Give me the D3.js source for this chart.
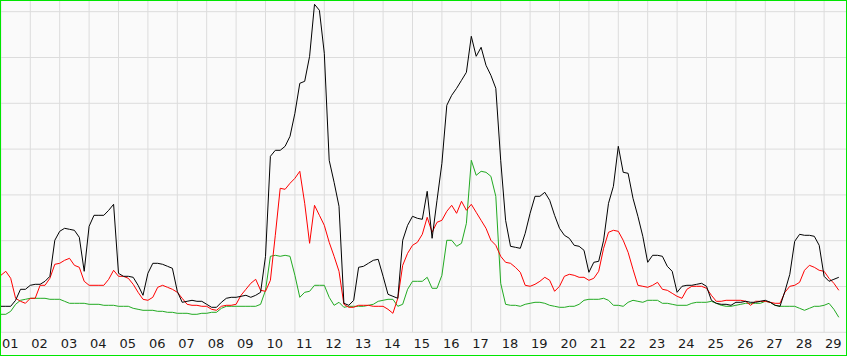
<!DOCTYPE html>
<html>
<head>
  <meta charset="UTF-8">
  <!-- Load d3.js -->
  <script src="https://d3js.org/d3.v7.min.js"></script>
  <style>
    body { margin: 0; background: #fff; }
    svg { display: block; }
  </style>
</head>
<body>
<div id="my_dataviz"></div>
<script>

// day labels along the bottom
var dayLabels = ["01", "02", "03", "04", "05", "06", "07", "08", "09", "10",
  "11", "12", "13", "14", "15", "16", "17", "18", "19", "20",
  "21", "22", "23", "24", "25", "26", "27", "28", "29"];

// values of the horizontal grid lines
var yTicks = [0, 45.8, 91.6, 137.4, 183.2, 229, 274.8, 320.6];

// one sample every 4 hours, starting on day 01 00:00
var stepHours = 4;

var blackValues = [
  26, 26, 26, 32, 43, 43, 47, 48, 48, 51,
  56, 92, 101, 104, 103, 102, 95, 61, 106, 117,
  117, 117, 122, 128, 59, 56, 56, 55, 47, 37,
  59, 69, 69, 68, 66, 64, 41, 30, 31, 32,
  31, 31, 28, 25, 25, 30, 34, 35, 35, 36,
  37, 35, 37, 40, 76, 176, 182, 182, 186, 196,
  219, 249, 251, 276, 328, 322, 279, 172, 150, 126,
  29, 27, 32, 65, 66, 69, 72, 73, 56, 38,
  36, 34, 92, 107, 116, 114, 113, 141, 94, 132,
  169, 227, 237, 244, 252, 260, 296, 276, 285, 267,
  257, 244, 172, 112, 86, 85, 84, 99, 119, 136,
  136, 140, 132, 117, 104, 97, 94, 87, 86, 82,
  60, 70, 71, 92, 129, 146, 186, 160, 159, 134,
  116, 96, 70, 77, 77, 76, 66, 61, 40, 46,
  47, 47, 48, 49, 46, 32, 29, 28, 28, 27,
  30, 30, 31, 30, 30, 31, 32, 30, 27, 26,
  41, 58, 91, 98, 97, 97, 96, 87, 56, 51, 53, 55
];

var redValues = [
  57, 61, 54, 34, 31, 29, 34, 34, 47, 47,
  54, 68, 69, 72, 74, 67, 65, 51, 47, 47,
  47, 47, 53, 62, 56, 56, 54, 48, 40, 33,
  32, 35, 45, 47, 45, 43, 40, 34, 28, 27,
  27, 26, 26, 23, 22, 26, 27, 27, 28, 37,
  43, 49, 53, 42, 41, 52, 97, 144, 143, 149,
  154, 161, 129, 89, 127, 117, 107, 90, 76, 61,
  28, 25, 25, 27, 27, 27, 26, 26, 26, 23,
  19, 34, 67, 79, 87, 90, 98, 115, 100, 110,
  112, 121, 127, 119, 131, 122, 128, 120, 112, 104,
  92, 87, 76, 70, 69, 65, 60, 47, 46, 48,
  51, 55, 52, 41, 46, 56, 58, 57, 55, 55,
  52, 54, 61, 84, 100, 102, 101, 92, 80, 63,
  47, 46, 45, 47, 50, 43, 42, 39, 36, 34,
  43, 46, 46, 46, 44, 37, 31, 31, 32, 32,
  32, 32, 31, 27, 31, 31, 31, 30, 29, 29,
  40, 46, 47, 50, 62, 67, 65, 62, 61, 54, 49, 42
];

var greenValues = [
  18, 18, 21, 28, 32, 33, 34, 34, 34, 34,
  33, 33, 33, 31, 29, 29, 29, 29, 28, 28,
  28, 27, 27, 27, 26, 26, 26, 24, 23, 22,
  22, 22, 21, 21, 20, 20, 19, 19, 19, 18,
  18, 19, 19, 20, 20, 24, 26, 26, 26, 26,
  26, 26, 26, 28, 42, 76, 77, 76, 77, 76,
  57, 35, 40, 41, 47, 47, 47, 35, 27, 30,
  25, 26, 26, 26, 26, 27, 28, 31, 32, 33,
  33, 26, 28, 43, 51, 51, 51, 55, 44, 44,
  57, 92, 92, 86, 89, 109, 172, 157, 161, 160,
  156, 136, 49, 28, 27, 27, 26, 28, 29, 30,
  30, 29, 27, 26, 25, 25, 26, 26, 28, 32,
  33, 33, 33, 34, 32, 27, 27, 26, 30, 32,
  31, 30, 32, 32, 32, 29, 29, 28, 27, 27,
  27, 29, 30, 30, 30, 31, 29, 27, 26, 26,
  27, 28, 29, 29, 29, 29, 31, 30, 27, 26,
  26, 26, 26, 24, 22, 24, 26, 26, 27, 29, 23, 15
];

// set the dimensions of the graph
var width = 848, height = 357;
var plotTop = 1, plotBottom = 332.3, plotLeft = 0.9, plotRight = 846.15;

var hour = 3600 * 1000;
var start = Date.UTC(2023, 0, 1);

var dayTicks = dayLabels.map(function (d) { return new Date(Date.UTC(2023, 0, +d)); });

// Build scales
var x = d3.scaleUtc()
  .domain([new Date(start), new Date(start + 690 * hour)])
  .range([plotLeft, plotRight]);

var y = d3.scaleLinear()
  .domain([0, plotBottom - plotTop])
  .range([plotBottom, plotTop]);

var svg = d3.select("#my_dataviz")
  .append("svg")
  .attr("width", width)
  .attr("height", height);

// background
svg.append("rect")
  .attr("x", 0).attr("y", 0)
  .attr("width", 847).attr("height", 356)
  .attr("fill", "#fafafa");

// vertical grid, one line per day
svg.append("g")
  .attr("transform", "translate(0," + plotBottom + ")")
  .call(d3.axisBottom(x).tickValues(dayTicks).tickSize(-(plotBottom - plotTop)).tickFormat("").offset(0))
  .call(function (g) { g.select(".domain").remove(); })
  .selectAll("line")
  .attr("stroke", "#dcdcdc");

// horizontal grid
svg.append("g")
  .call(d3.axisLeft(y).tickValues(yTicks).tickSize(-847).tickFormat("").offset(0))
  .call(function (g) { g.select(".domain").remove(); })
  .selectAll("line")
  .attr("stroke", "#dcdcdc");

// day labels
var xAxis = svg.append("g")
  .attr("transform", "translate(0," + plotBottom + ")")
  .call(d3.axisBottom(x).tickValues(dayTicks).tickSize(0)
    .tickFormat(function (d, i) { return dayLabels[i]; }).offset(0));
xAxis.select(".domain").remove();
xAxis.attr("font-family", "DejaVu Sans").attr("font-size", 13);
xAxis.selectAll("text")
  .attr("text-anchor", "start")
  .attr("x", 1)
  .attr("y", 15.7)
  .attr("dy", null)
  .attr("fill", "#1a1a1a");

// the three lines
var line = d3.line()
  .x(function (d, i) { return x(new Date(start + i * stepHours * hour)); })
  .y(function (d) { return y(d); });

var series = [
  { values: greenValues, color: "#22aa22" },
  { values: redValues, color: "#ff0000" },
  { values: blackValues, color: "#000000" }
];

svg.selectAll(".series")
  .data(series)
  .enter()
  .append("path")
  .attr("class", "series")
  .attr("fill", "none")
  .attr("stroke", function (d) { return d.color; })
  .attr("stroke-width", 1)
  .attr("d", function (d) { return line(d.values); });

// green frame round the picture
svg.append("rect")
  .attr("x", 0.5).attr("y", 0.5)
  .attr("width", 846).attr("height", 355)
  .attr("fill", "none")
  .attr("stroke", "#00e600");

</script>
</body>
</html>
